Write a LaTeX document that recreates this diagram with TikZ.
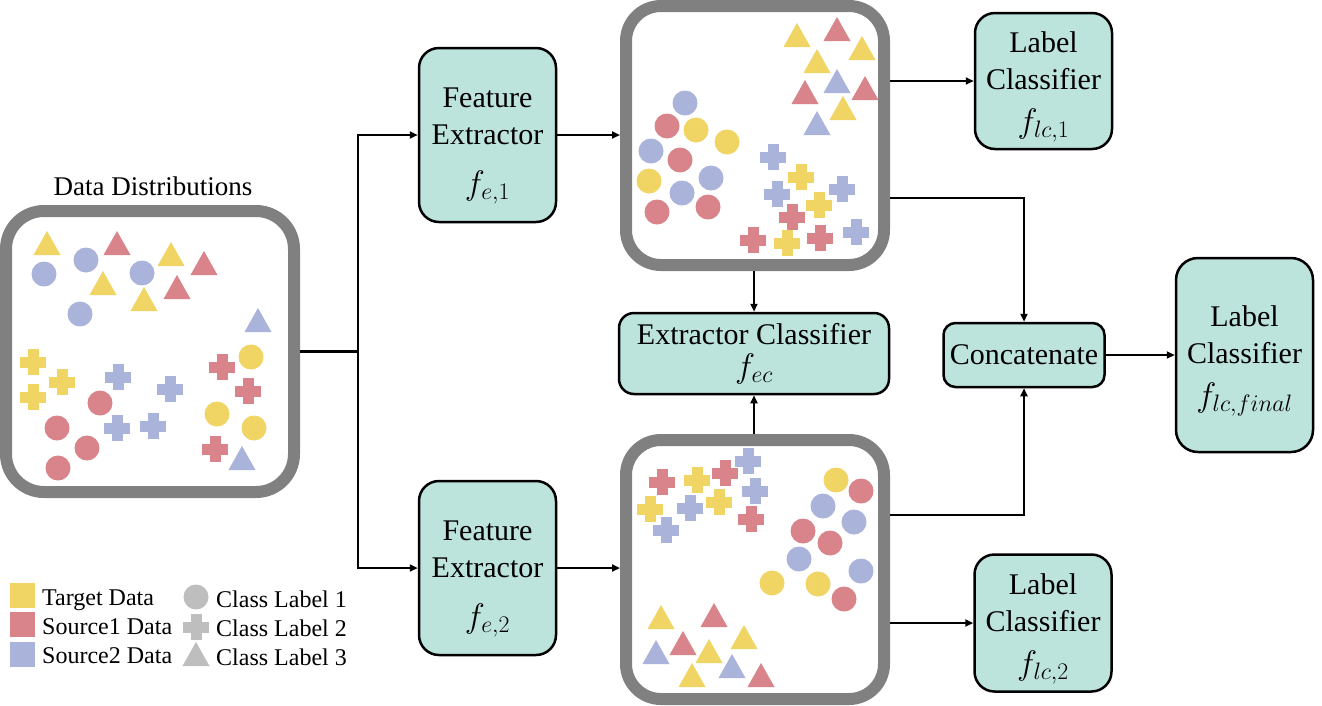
\RequirePackage{fix-cm}
\documentclass[tikz,border=0pt]{standalone}
\usepackage{fontspec}
\setmainfont{Liberation Serif}
\usetikzlibrary{arrows.meta,calc}
\definecolor{ylw}{RGB}{240,212,100}
\definecolor{rd}{RGB}{217,131,138}
\definecolor{bl}{RGB}{170,180,218}
\definecolor{lgr}{RGB}{190,190,190}
\definecolor{frame}{RGB}{128,128,128}
\definecolor{tealbox}{RGB}{189,227,221}
\newcommand\Circs[2]{\foreach \x/\y in {#2} {\fill[#1] (\x,\y) circle (12.5pt);}}
\newcommand\Tris[2]{\foreach \x/\y in {#2} {\fill[#1] (\x,\y) ++(-13.5,12) -- ++(27,0) -- ++(-13.5,-24) -- cycle;}}
\newcommand\Crosses[2]{\foreach \x/\y in {#2} {\fill[#1] (\x,\y) ++(-5.5,-13) rectangle ++(11,26); \fill[#1] (\x,\y) ++(-13,-5.5) rectangle ++(26,11);}}
\newcommand\Mth[1]{{\fontsize{34}{40}\selectfont$#1$}}
\begin{document}
\begin{tikzpicture}[x=1pt,y=-1pt,
  blk/.style={draw=black, line width=2.5pt, fill=tealbox, rounded corners=20pt, align=center, inner sep=0pt, font=\fontsize{30}{37}\selectfont},
  distbox/.style={draw=frame, line width=12pt, fill=white, rounded corners=38pt, inner sep=0pt},
  con/.style={line width=2.5pt, draw=black},
  arr/.style={con, -{Triangle[length=8pt,width=7pt]}},
  legtxt/.style={anchor=base west, inner sep=0pt, font=\fontsize{24}{28}\selectfont}]
\useasboundingbox (0,0) rectangle (1322,705);
\fill[white] (0,0) rectangle (1322,705);

% distribution boxes
\node[distbox, minimum width=288pt, minimum height=281pt] (dist) at (150,351.5) {};
\node[distbox, minimum width=258pt, minimum height=259pt, rounded corners=35pt] (top) at (755,135.5) {};
\node[distbox, minimum width=258pt, minimum height=259pt, rounded corners=35pt] (bot) at (755,569.5) {};
\node[font=\fontsize{27}{32}\selectfont, inner sep=0pt] (disttitle) at (153,186) {Data Distributions};

% processing blocks
\node[blk, minimum width=137pt, minimum height=174pt] (fe1) at (487.5,135) {\rule{0pt}{42pt}Feature\\Extractor\\[13pt]\Mth{f_{e,1}}};
\node[blk, minimum width=137pt, minimum height=174pt] (fe2) at (487.5,568) {\rule{0pt}{42pt}Feature\\Extractor\\[13pt]\Mth{f_{e,2}}};
\node[blk, minimum width=270pt, minimum height=81pt, rounded corners=15pt, font=\fontsize{30}{33}\selectfont] (ec) at (754,353.5) {Extractor Classifier\\\Mth{f_{ec}}};
\node[blk, minimum width=161pt, minimum height=64pt, rounded corners=12pt] (cat) at (1024,355) {Concatenate};
\node[blk, minimum width=137pt, minimum height=136pt] (lc1) at (1043.5,81) {\rule{0pt}{33pt}Label\\Classifier\\[6pt]\Mth{f_{lc,1}}};
\node[blk, minimum width=137pt, minimum height=137pt] (lc2) at (1043,623) {\rule{0pt}{33pt}Label\\Classifier\\[6pt]\Mth{f_{lc,2}}};
\node[blk, minimum width=137pt, minimum height=194pt, rounded corners=22pt] (lcf) at (1244.5,355) {\rule{0pt}{33pt}Label\\Classifier\\[6pt]\Mth{f_{lc,final}}};

% connectors
\coordinate (split) at ($(dist.east)+(58,0)$);
\draw[con] (dist.east) -- (split);
\draw[arr] (split) |- (fe1.west);
\draw[arr] (split) |- (fe2.west);
\draw[arr] (fe1.east) -- (fe1.east -| top.west);
\draw[arr] (fe2.east) -- (fe2.east -| bot.west);
\draw[arr] (top.east |- lc1.west) -- (lc1.west);
\draw[arr] (bot.east |- lc2.west) -- (lc2.west);
\draw[arr] ($(top.east)+(0,62.5)$) -| (cat.north);
\draw[arr] ($(bot.east)+(0,-54.5)$) -| (cat.south);
\draw[arr] (top.south -| ec.north) -- (ec.north);
\draw[arr] (bot.north -| ec.south) -- (ec.south);
\draw[arr] (cat.east) -- (lcf.west);

% left distribution
\Tris{ylw}{47/243,171/254,103/283,144/299}
\Tris{rd}{117/243,204/263,177/287}
\Tris{bl}{258/320,242/458}
\Circs{bl}{44/274,86/260,142/273,80/314}
\Circs{ylw}{251/357,217/414,254/428}
\Circs{rd}{100/403,57/428,87/448,58/468}
\Crosses{ylw}{33/362,62/382,33/397}
\Crosses{bl}{118/377,170/389,117/428,153/426}
\Crosses{rd}{222/367,248/391,215/449}

% top distribution
\Tris{ylw}{797/35,862/48,817/61,843/108}
\Tris{rd}{837/29,805/92,865/88}
\Tris{bl}{837/81,817/123}
\Circs{bl}{685/103,651/151,711/178,682/193}
\Circs{rd}{667/126,680/160,657/212,708/207}
\Circs{ylw}{696/130,727/142,649/181}
\Crosses{bl}{773/157,777/194,842/189,856/232}
\Crosses{ylw}{801/177,819/205,787/243}
\Crosses{rd}{792/217,753/240,820/238}

% bottom distribution
\Crosses{rd}{662/482,725/473,751/519}
\Crosses{ylw}{697/480,650/509,719/502}
\Crosses{bl}{748/461,755/491,690/508,666/530}
\Circs{ylw}{836/480,772/583,818/584}
\Circs{rd}{861/491,803/531,830/543,844/599}
\Circs{bl}{823/506,854/522,799/559,861/571}
\Tris{ylw}{661/617,744/637,709/651,692/675}
\Tris{rd}{714/615,683/643,761/675}
\Tris{bl}{656/652,732/666}

% legend
\fill[ylw] (9.5,583) rectangle (34.5,608);
\fill[rd] (9.5,612) rectangle (34.5,637);
\fill[bl] (9.5,642) rectangle (34.5,667);
\node[legtxt] (l1) at (42,605) {Target Data};
\node[legtxt] (l2) at (42,634) {Source1 Data};
\node[legtxt] (l3) at (42,663) {Source2 Data};
\Circs{lgr}{196/597}
\Crosses{lgr}{196/627}
\Tris{lgr}{196/654}
\node[legtxt] (c1) at (216,607) {Class Label 1};
\node[legtxt] (c2) at (216,636) {Class Label 2};
\node[legtxt] (c3) at (216,665) {Class Label 3};
\end{tikzpicture}
\end{document}
